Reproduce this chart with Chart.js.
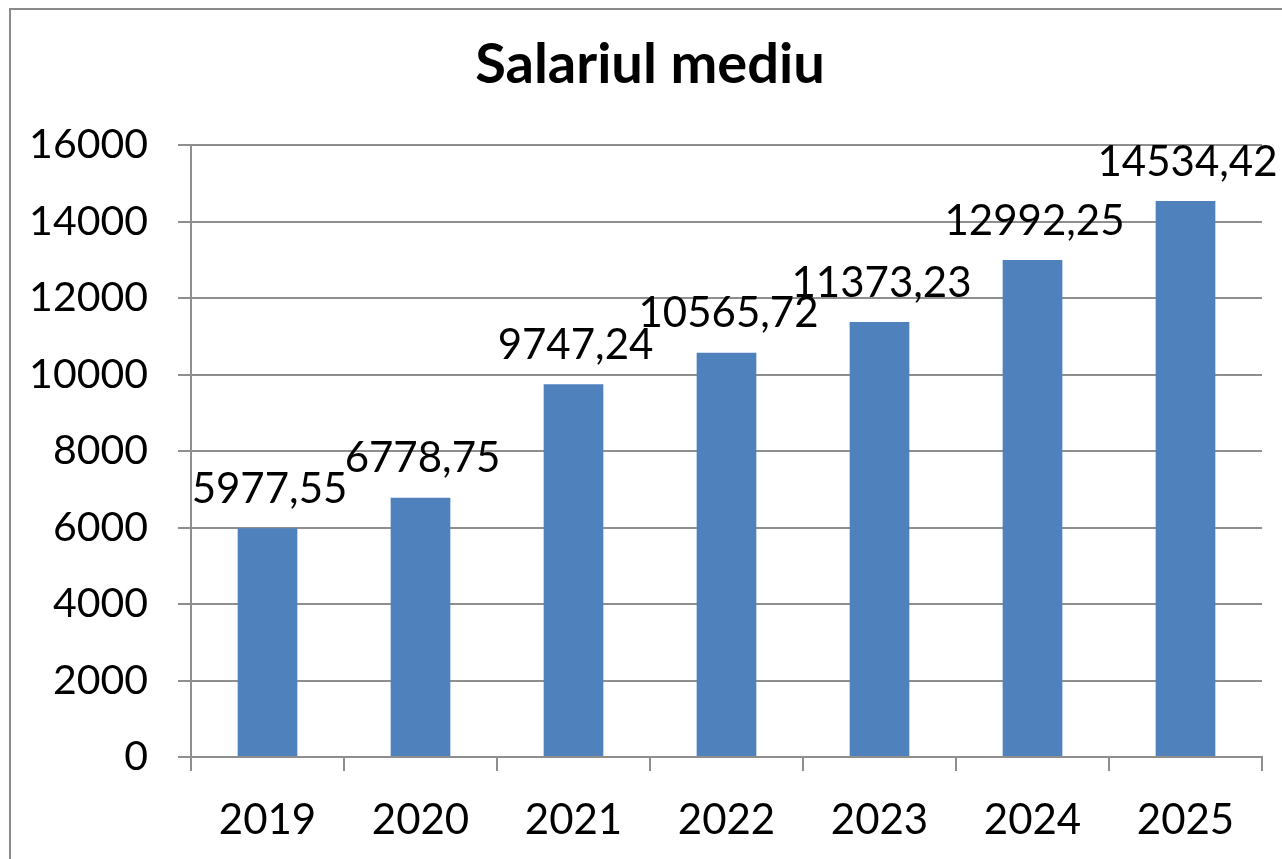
<!DOCTYPE html>
<html>
<head>
<meta charset="utf-8">
<script src="https://cdn.jsdelivr.net/npm/chart.js@4/dist/chart.umd.min.js"></script>
<style>
  html, body { margin: 0; padding: 0; background: #fff; overflow: hidden; }
  #wrap { position: relative; width: 1282px; height: 859px; }
</style>
</head>
<body>
<div id="wrap"><canvas id="chart" width="1282" height="859"></canvas></div>
<script>
// ─── Data ────────────────────────────────────────────────────────────────────
const chartTitle = 'Salariul mediu';
const years = ['2019', '2020', '2021', '2022', '2023', '2024', '2025'];
const salaries = [5977.55, 6778.75, 9747.24, 10565.72, 11373.23, 12992.25, 14534.42];
const yTicks = [0, 2000, 4000, 6000, 8000, 10000, 12000, 14000, 16000];

const FONT = 'Lato, Carlito, "Noto Sans", sans-serif';
const GRID = '#8e8e8e';

// value labels above bars, with comma decimals
const valueLabels = {
  id: 'valueLabels',
  afterDatasetsDraw(chart) {
    const { ctx } = chart;
    const meta = chart.getDatasetMeta(0);
    ctx.save();
    ctx.font = `42px ${FONT}`;
    ctx.fillStyle = '#000';
    ctx.textAlign = 'center';
    ctx.textBaseline = 'middle';
    meta.data.forEach((bar, i) => {
      const txt = salaries[i].toFixed(2).replace('.', ',');
      ctx.fillText(txt, bar.x + 2, bar.y - 39);
    });
    ctx.restore();
  },
};

// outer frame + title (title centred on the whole frame, not the padded box)
const frame = {
  id: 'frame',
  beforeDraw(chart) {
    const { ctx } = chart;
    ctx.save();
    ctx.strokeStyle = '#8a8a8a';
    ctx.lineWidth = 2;
    ctx.strokeRect(10, 9, 1400, 1000);
    ctx.font = `bold 56px ${FONT}`;
    ctx.fillStyle = '#000';
    ctx.textAlign = 'center';
    ctx.textBaseline = 'middle';
    ctx.fillText(chartTitle, 650, 65);
    ctx.restore();
  },
};

new Chart(document.getElementById('chart').getContext('2d'), {
  type: 'bar',
  data: {
    labels: years,
    datasets: [{
      data: salaries,
      backgroundColor: '#4f81bd',
      borderWidth: 0,
      categoryPercentage: 1,
      barPercentage: 0.39,
    }],
  },
  options: {
    responsive: false,
    animation: false,
    layout: { padding: { left: 0, right: 20, top: 145, bottom: 0 } },
    plugins: {
      legend: { display: false },
      tooltip: { enabled: false },
      title: { display: false },
    },
    scales: {
      x: {
        grid: {
          offset: true,
          drawOnChartArea: false,
          drawTicks: true,
          tickLength: 14,
          color: GRID,
          lineWidth: 2,
        },
        border: { display: true, color: GRID, width: 2 },
        ticks: {
          color: '#000',
          padding: 24,
          font: { family: FONT, size: 42 },
          maxRotation: 0,
        },
        afterFit: (s) => { s.height = 102; },
      },
      y: {
        min: 0,
        max: 16000,
        afterBuildTicks: (s) => { s.ticks = yTicks.map(v => ({ value: v })); },
        grid: {
          drawTicks: true,
          tickLength: 13,
          color: GRID,
          lineWidth: 2,
        },
        border: { display: true, color: GRID, width: 2 },
        ticks: {
          color: '#000',
          padding: 30,
          font: { family: FONT, size: 41 },
          callback: (v) => String(v),
        },
        afterFit: (s) => { s.width = 191; },
      },
    },
  },
  plugins: [frame, valueLabels],
});
</script>
</body>
</html>
